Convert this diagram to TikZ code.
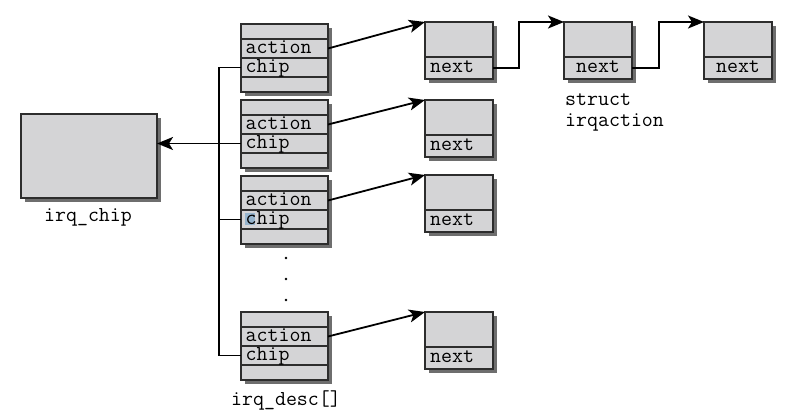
\documentclass[tikz,border=0pt]{standalone}
\usetikzlibrary{arrows.meta,calc}
\definecolor{boxfill}{RGB}{212,212,214}
\definecolor{shadowc}{RGB}{110,110,110}
\definecolor{edgec}{RGB}{45,45,45}
\definecolor{hilite}{RGB}{150,180,205}
\begin{document}
\begin{tikzpicture}[x=1pt,y=-1pt,
  cell/.style={draw=edgec, fill=boxfill, line width=1.1pt, inner sep=0pt, outer sep=0pt, anchor=north west, minimum width=87pt},
  acell/.style={cell, minimum width=68pt},
  shad/.style={fill=shadowc},
  txt/.style={font=\fontsize{21.3}{24}\selectfont\ttfamily, inner sep=0pt, anchor=base west},
  conn/.style={line width=1.8pt, black},
  arr/.style={conn, -{Stealth[length=16pt,width=13pt,inset=4pt]}},
]
\useasboundingbox (0,0) rectangle (786,419);

% irq_chip box
\fill[shad] (25,118) rectangle (161,202);
\node[cell, minimum width=136pt, minimum height=84pt] (chip) at (21,114) {};
\node[txt, anchor=base] (chiplbl) at (88,222) {irq\_chip};

% irq_desc boxes
\foreach \i/\yy in {1/24,2/100,3/176,4/312}{
  \fill[shad] (245,\yy+4) rectangle (332,\yy+72);
  \node[cell, minimum height=15pt] (d\i-top) at (241,\yy) {};
  \node[cell, minimum height=19pt] (d\i-act) at (241,\yy+15) {};
  \node[cell, minimum height=19pt] (d\i-chip) at (241,\yy+34) {};
  \node[cell, minimum height=15pt] (d\i-bot) at (241,\yy+53) {};
}
\fill[hilite] (245,213) rectangle (255,225);
\foreach \i in {1,2,3,4}{
  \node[txt] (d\i-acttxt) at ($(d\i-act.south west)+(4.5,-4.5)$) {action};
  \node[txt] (d\i-chiptxt) at ($(d\i-chip.south west)+(4.5,-4.5)$) {chip};
}
\node[txt, anchor=base] (desclbl) at (286,405) {irq\_desc[]};

% dots
\fill (286,258) circle (1.3);
\fill (286,279) circle (1.3);
\fill (286,300) circle (1.3);

% irqaction boxes, first column
\foreach \r/\yy in {1/22,2/100,3/175,4/312}{
  \fill[shad] (429,\yy+4) rectangle (497,\yy+61);
  \node[acell, minimum height=35pt] (a\r-1) at (425,\yy) {};
  \node[acell, minimum height=22pt] (a\r-1n) at (425,\yy+35) {};
  \node[txt] (a\r-1t) at ($(a\r-1n.south west)+(5,-6.5)$) {next};
}
% second and third in row 1
\foreach \c/\xx in {2/564,3/704}{
  \fill[shad] (\xx+4,26) rectangle (\xx+72,83);
  \node[acell, minimum height=35pt] (a1-\c) at (\xx,22) {};
  \node[acell, minimum height=22pt] (a1-\c n) at (\xx,57) {};
  \node[txt, anchor=base] (a1-\c t) at ($(a1-\c n.south)+(0,-6.5)$) {next};
}
\node[txt] (structlbl) at (565,106) {struct};
\node[txt] (irqalbl) at (565,127) {irqaction};

% connectors: action -> irqaction
\foreach \i in {1,2,3,4}{
  \draw[arr] (d\i-act.east) -- (a\i-1.north west);
}
% next chain
\draw[arr] (a1-1n.east) -- ++(26,0) |- (a1-2.north west);
\draw[arr] (a1-2n.east) -- ++(27,0) |- (a1-3.north west);

% chip pointers
\coordinate (vx) at (219,0);
\draw[conn] (d1-chip.west) -- (d1-chip.west -| vx) -- (d4-chip.west -| vx) -- (d4-chip.west);
\draw[conn] (d3-chip.west -| vx) -- (d3-chip.west);
\draw[arr] (d2-chip.west) -- (d2-chip.west -| chip.east);
\end{tikzpicture}
\end{document}
